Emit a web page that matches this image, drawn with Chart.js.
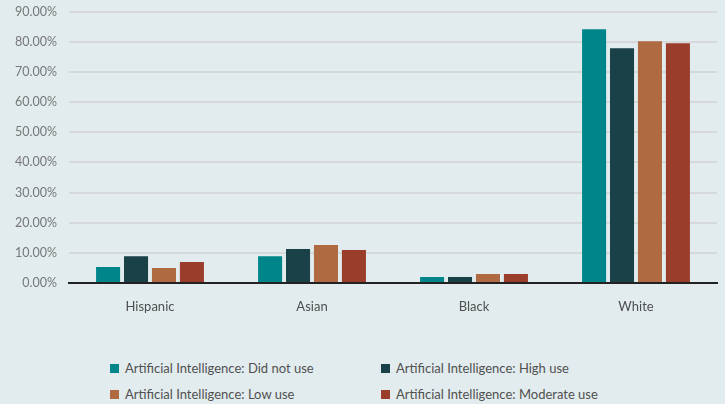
<!DOCTYPE html>
<html>
<head>
<meta charset="utf-8">
<script src="https://cdn.jsdelivr.net/npm/chart.js@4/dist/chart.umd.min.js"></script>
<style>
  html, body { margin: 0; padding: 0; background: #e2ecee; overflow: hidden; }
  #wrap { position: relative; width: 725px; height: 404px; }
  #chartBox { position: absolute; left: 0; top: -8px; width: 725px; height: 338px; }
  #legend {
    position: absolute; left: 110px; top: 358px;
    display: grid; grid-template-columns: 271px 260px; row-gap: 6px;
    font-family: Lato, sans-serif; font-size: 13px; color: #505050;
  }
  #legend div { display: flex; align-items: center; height: 20px; white-space: nowrap; }
  #legend span.box { display: inline-block; width: 9px; height: 9px; margin-right: 6px; }
</style>
</head>
<body>
<div id="wrap">
  <div id="chartBox"><canvas id="aiChart"></canvas></div>
  <div id="legend"></div>
</div>
<script>
  // categories and series
  const groups = ['Hispanic', 'Asian', 'Black', 'White'];
  const didNotUse = [5.3, 8.9, 2.0, 84.1];
  const highUse = [8.9, 11.3, 2.0, 77.8];
  const lowUse = [5.0, 12.6, 3.0, 80.1];
  const moderateUse = [7.0, 10.9, 3.0, 79.5];
  const yTicks = [0, 10, 20, 30, 40, 50, 60, 70, 80, 90];

  const colors = ['#00868a', '#1a4147', '#b06a42', '#9a3d2a'];
  const names = [
    'Artificial Intelligence: Did not use',
    'Artificial Intelligence: High use',
    'Artificial Intelligence: Low use',
    'Artificial Intelligence: Moderate use'
  ];
  const series = [didNotUse, highUse, lowUse, moderateUse];

  const ctx = document.getElementById('aiChart').getContext('2d');
  const aiChart = new Chart(ctx, {
    type: 'bar',
    data: {
      labels: groups,
      datasets: series.map(function (vals, i) {
        return {
          label: names[i],
          data: vals,
          backgroundColor: colors[i],
          borderWidth: 0,
          categoryPercentage: 0.69,
          barPercentage: 0.86
        };
      })
    },
    options: {
      responsive: true,
      maintainAspectRatio: false,
      animation: false,
      layout: { padding: { top: 4, right: 8, left: 0, bottom: 0 } },
      plugins: {
        legend: { display: false },
        tooltip: { enabled: false }
      },
      scales: {
        x: {
          grid: { color: 'transparent', drawTicks: false },
          border: { display: true, color: '#222', width: 2 },
          ticks: {
            padding: 16,
            color: '#4f4f4f',
            font: { family: 'Lato', size: 13 }
          },
          afterFit: function (scale) { scale.height = 47; }
        },
        y: {
          min: 0,
          max: 90,
          afterBuildTicks: function (scale) {
            scale.ticks = yTicks.map(function (v) { return { value: v }; });
          },
          grid: { color: '#d6d9da', lineWidth: 2, drawTicks: false },
          border: { display: false },
          ticks: {
            padding: 12,
            color: '#777',
            font: { family: 'Lato', size: 12.5 },
            callback: function (v) { return v.toFixed(2) + '%'; }
          },
          afterFit: function (scale) { scale.width = 69; }
        }
      }
    }
  });

  // legend in two columns
  const legend = document.getElementById('legend');
  aiChart.data.datasets.forEach(function (ds) {
    const item = document.createElement('div');
    const box = document.createElement('span');
    box.className = 'box';
    box.style.background = ds.backgroundColor;
    item.appendChild(box);
    item.appendChild(document.createTextNode(ds.label));
    legend.appendChild(item);
  });
</script>
</body>
</html>
